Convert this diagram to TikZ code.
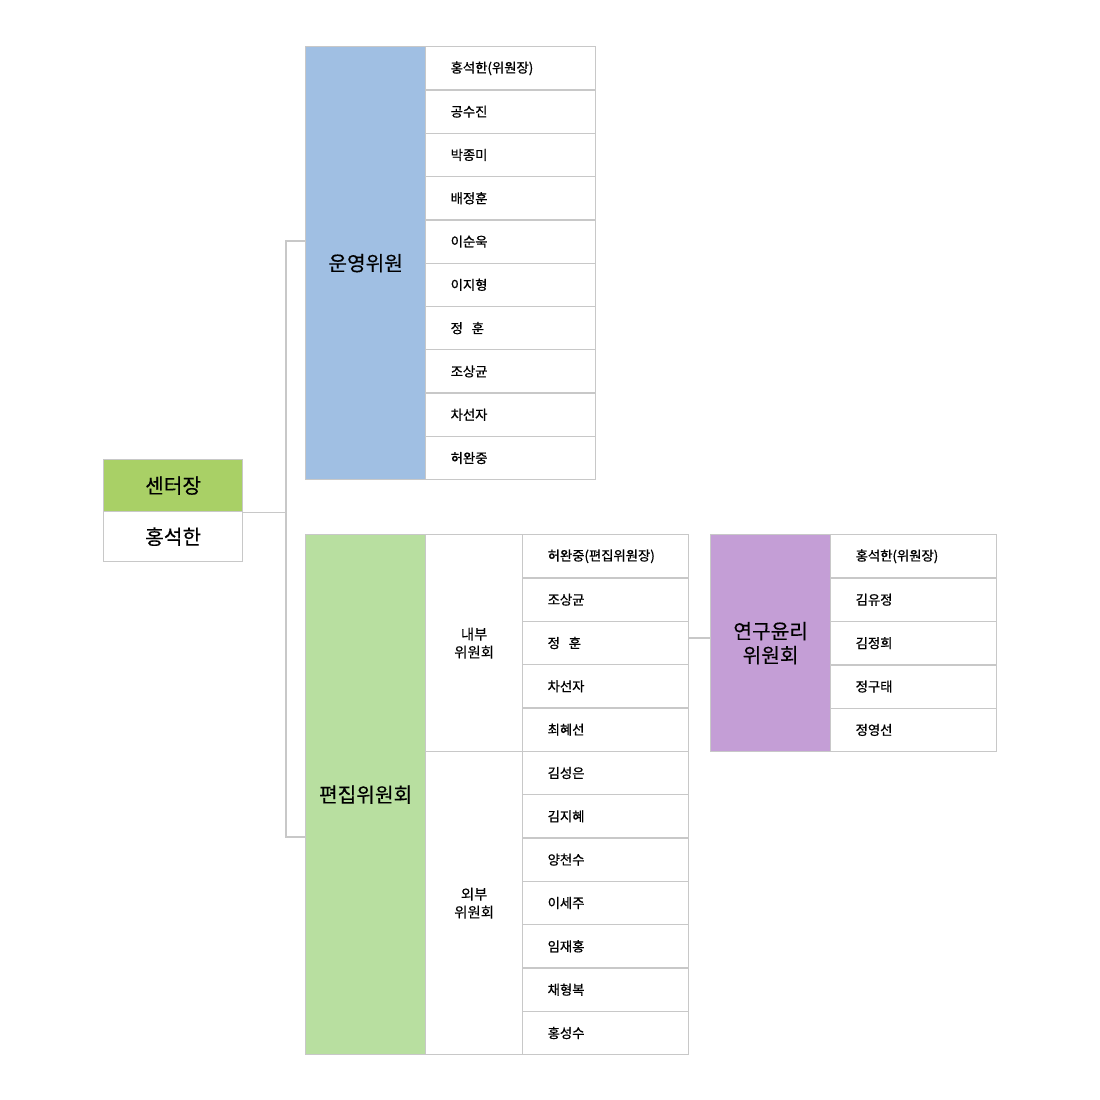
\documentclass[tikz,border=0pt]{standalone}
\usepackage{fontspec}
\setmainfont{Noto Sans CJK KR}
\newfontfamily\memfont[FakeBold=0.9]{Noto Sans CJK KR}
\newfontfamily\ttlfont[FakeBold=0.3]{Noto Sans CJK KR}
\definecolor{lgray}{HTML}{C8C8C8}
\definecolor{cblue}{HTML}{A0BFE3}
\definecolor{cgreen}{HTML}{A9D066}
\definecolor{clgreen}{HTML}{B8DFA0}
\definecolor{cpurple}{HTML}{C49ED6}
\begin{document}
\begin{tikzpicture}[x=0.75pt,y=-0.75pt,
  box/.style={draw=lgray, line width=1pt, inner sep=0pt, anchor=north west, align=center},
  title/.style={box, font=\ttlfont\fontsize{15.2}{18}\selectfont},
  subtitle/.style={box, font=\ttlfont\fontsize{10.8}{13.5}\selectfont, fill=white},
  member/.style={box, fill=white, inner xsep=18.75pt, align=left,
    font=\memfont\fontsize{10}{12}\selectfont, minimum height=32.5pt},
  memA/.style={member, minimum width=127.5pt, text width=90pt},
  memB/.style={member, minimum width=124.5pt, text width=87pt},
  conn/.style={draw=lgray, line width=1pt}]
\useasboundingbox (0,0) rectangle (1100,1100);

% centre head
\node[title, fill=cgreen, minimum width=104.25pt, minimum height=39pt] (ctr) at (103,459) {센터장};
\node[title, fill=white, minimum width=104.25pt, minimum height=37.5pt] (ctrname) at (103,511) {홍석한};

% operating committee
\node[title, fill=cblue, minimum width=90pt, minimum height=324.75pt] (unyoung) at (305,46) {운영위원};
\foreach \n [count=\i from 0] in {홍석한(위원장),공수진,박종미,배정훈,이순욱,이지형,정\ \ 훈,조상균,차선자,허완중}
  \node[memA] (u\i) at (425,46+43.3*\i) {\n};

% editorial committee
\node[title, fill=clgreen, minimum width=90pt, minimum height=390pt] (pyeon) at (305,534) {편집위원회};
\node[subtitle, minimum width=72.75pt, minimum height=162.75pt] (naebu) at (425,534) {내부\\위원회};
\node[subtitle, minimum width=72.75pt, minimum height=227.25pt] (oebu) at (425,751) {외부\\위원회};
\foreach \n [count=\i from 0] in {허완중(편집위원장),조상균,정\ \ 훈,차선자,최혜선,김성은,김지혜,양천수,이세주,임재홍,채형복,홍성수}
  \node[memB] (p\i) at (522,534+43.333*\i) {\n};

% research ethics committee
\node[title, fill=cpurple, minimum width=90pt, minimum height=162.75pt] (yunri) at (710,534) {연구윤리\\위원회};
\foreach \n [count=\i from 0] in {홍석한(위원장),김유정,김정희,정구태,정영선}
  \node[memB] (r\i) at (830,534+43.4*\i) {\n};

% connectors
\coordinate (jt) at (286,241);
\coordinate (jb) at (286,837);
\draw[conn] (ctr.south east) -- (ctr.south east -| jt);
\draw[conn] (unyoung.north west |- jt) -- (jt) -- (jb) -- (pyeon.north west |- jb);
\draw[conn] (p2.east |- 0,638) -- (yunri.west |- 0,638);
\end{tikzpicture}
\end{document}
